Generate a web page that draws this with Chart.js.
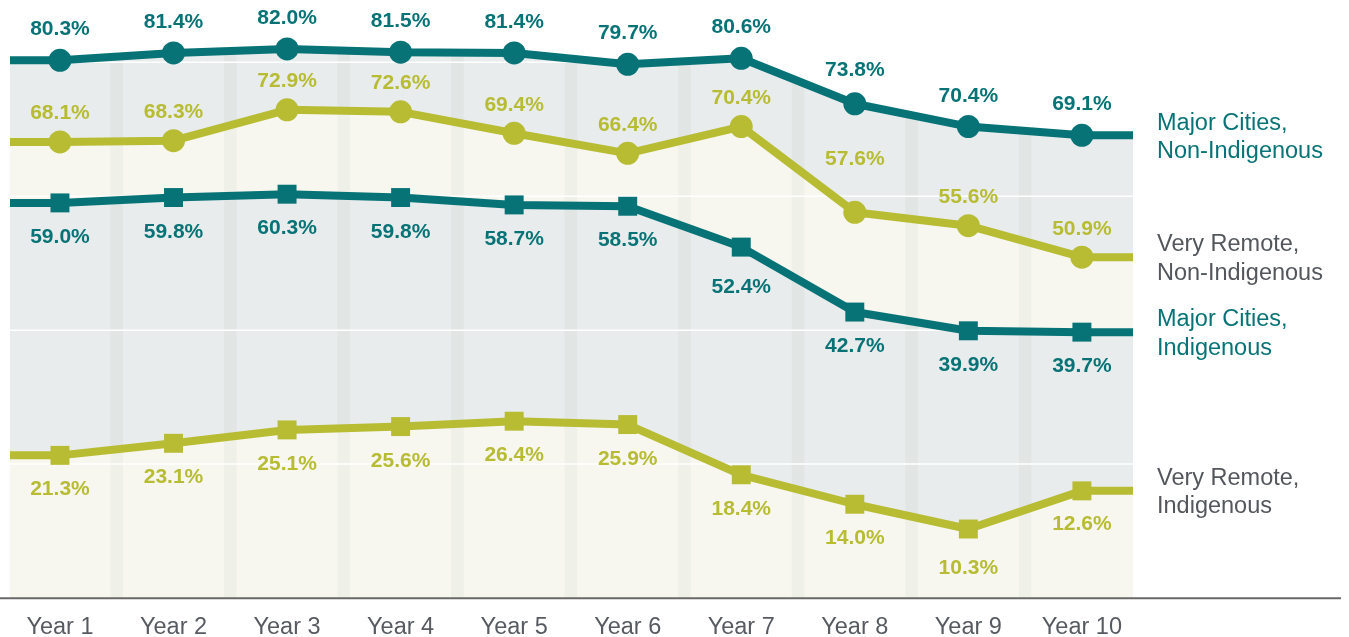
<!DOCTYPE html>
<html>
<head>
<meta charset="utf-8">
<script src="https://cdn.jsdelivr.net/npm/chart.js@4.4.1/dist/chart.umd.min.js"></script>
<style>
  html, body { margin: 0; padding: 0; background: #ffffff; }
  canvas { display: block; }
</style>
</head>
<body>
<canvas id="c" width="1349" height="637"></canvas>
<script>
// ---------------- data ----------------
const categories = ['Year 1', 'Year 2', 'Year 3', 'Year 4', 'Year 5', 'Year 6', 'Year 7', 'Year 8', 'Year 9', 'Year 10'];

const majorCitiesNonIndigenous = [80.3, 81.4, 82.0, 81.5, 81.4, 79.7, 80.6, 73.8, 70.4, 69.1];
const veryRemoteNonIndigenous  = [68.1, 68.3, 72.9, 72.6, 69.4, 66.4, 70.4, 57.6, 55.6, 50.9];
const majorCitiesIndigenous    = [59.0, 59.8, 60.3, 59.8, 58.7, 58.5, 52.4, 42.7, 39.9, 39.7];
const veryRemoteIndigenous     = [21.3, 23.1, 25.1, 25.6, 26.4, 25.9, 18.4, 14.0, 10.3, 16.0];

// printed value labels (as shown in the picture)
const labelsMajorCitiesNonIndigenous = ['80.3%', '81.4%', '82.0%', '81.5%', '81.4%', '79.7%', '80.6%', '73.8%', '70.4%', '69.1%'];
const labelsVeryRemoteNonIndigenous  = ['68.1%', '68.3%', '72.9%', '72.6%', '69.4%', '66.4%', '70.4%', '57.6%', '55.6%', '50.9%'];
const labelsMajorCitiesIndigenous    = ['59.0%', '59.8%', '60.3%', '59.8%', '58.7%', '58.5%', '52.4%', '42.7%', '39.9%', '39.7%'];
const labelsVeryRemoteIndigenous     = ['21.3%', '23.1%', '25.1%', '25.6%', '26.4%', '25.9%', '18.4%', '14.0%', '10.3%', '12.6%'];

const seriesNames = [
  ['Major Cities,', 'Non-Indigenous'],
  ['Very Remote,', 'Non-Indigenous'],
  ['Major Cities,', 'Indigenous'],
  ['Very Remote,', 'Indigenous']
];

const gridValues = [20, 40, 60, 80];

// ---------------- styles ----------------
const FONT = '"Liberation Sans", Arial, Helvetica, sans-serif';
const TEAL = '#077376';
const LIME = '#b7bc33';
const GRAYTEXT = '#53575c';
const FILL_GRAY = '#e8ecec';
const FILL_CREAM = '#f7f7ef';
const X_MIN = 0.56, X_MAX = 10.45, Y_MAX = 89.3;

const seriesStyle = [
  { color: TEAL, fill: FILL_GRAY,  point: 'circle', radius: 11.5, labelDy: -25,   labelDyOverride: { 7: -28 },  legendColor: TEAL },
  { color: LIME, fill: FILL_CREAM, point: 'circle', radius: 11.5, labelDy: -22.5, labelDyOverride: { 7: -47 },  legendColor: GRAYTEXT },
  { color: TEAL, fill: FILL_GRAY,  point: 'rect',   radius: 13.4, labelDy: 40,    labelDyOverride: { 6: 45.5 }, legendColor: TEAL },
  { color: LIME, fill: FILL_CREAM, point: 'rect',   radius: 13.4, labelDy: 40,    labelDyOverride: { 8: 45, 9: 39 }, legendColor: GRAYTEXT }
];

const seriesValues = [majorCitiesNonIndigenous, veryRemoteNonIndigenous, majorCitiesIndigenous, veryRemoteIndigenous];
const seriesLabels = [labelsMajorCitiesNonIndigenous, labelsVeryRemoteNonIndigenous, labelsMajorCitiesIndigenous, labelsVeryRemoteIndigenous];

// line extends flat to the plot edges
function extended(values) {
  return [{ x: X_MIN, y: values[0] }]
    .concat(values.map((v, i) => ({ x: i + 1, y: v })))
    .concat([{ x: X_MAX, y: values[values.length - 1] }]);
}

const lineDatasets = seriesValues.map((vals, s) => {
  const st = seriesStyle[s];
  const radii = [0].concat(vals.map(() => st.radius)).concat([0]);
  return {
    data: extended(vals),
    seriesIndex: s,
    isLine: true,
    order: 0,
    borderColor: st.color,
    borderWidth: 8,
    backgroundColor: st.color,
    pointStyle: st.point,
    pointRadius: radii,
    pointHoverRadius: radii,
    pointBackgroundColor: st.color,
    pointBorderWidth: 0,
    pointHoverBorderWidth: 0,
    fill: false,
    tension: 0,
    borderJoinStyle: 'round'
  };
});

const fillDatasets = seriesValues.map((vals, s) => ({
  data: extended(vals),
  order: 10 - s,
  lastFill: s === seriesValues.length - 1,
  borderWidth: 0,
  borderColor: 'rgba(0,0,0,0)',
  backgroundColor: seriesStyle[s].fill,
  pointRadius: 0,
  pointHoverRadius: 0,
  fill: 'origin',
  tension: 0
}));

const decorPlugin = {
  id: 'decor',
  afterDatasetDraw(chart, args) {
    const ds = chart.data.datasets[args.index];
    if (!ds.lastFill) return;
    const { ctx, chartArea: a, scales: { x, y } } = chart;
    // category separator bands, only over filled areas
    ctx.save();
    ctx.globalCompositeOperation = 'source-atop';
    ctx.fillStyle = 'rgba(60,75,45,0.04)';
    for (let i = 1; i < categories.length; i++) {
      const px = x.getPixelForValue(i + 0.5);
      ctx.fillRect(px - 6.25, a.top, 12.5, a.bottom - a.top);
    }
    ctx.restore();
    // horizontal grid lines
    ctx.save();
    ctx.strokeStyle = '#ffffff';
    ctx.lineWidth = 1.5;
    gridValues.forEach(v => {
      const py = y.getPixelForValue(v);
      ctx.beginPath();
      ctx.moveTo(a.left, py);
      ctx.lineTo(a.right, py);
      ctx.stroke();
    });
    ctx.restore();
  },
  afterDatasetsDraw(chart) {
    const { ctx, chartArea: a, scales: { y } } = chart;
    // value labels
    ctx.save();
    ctx.font = 'bold 21px ' + FONT;
    ctx.textAlign = 'center';
    ctx.textBaseline = 'alphabetic';
    chart.data.datasets.forEach((ds, di) => {
      if (!ds.isLine) return;
      const s = ds.seriesIndex;
      const st = seriesStyle[s];
      const meta = chart.getDatasetMeta(di);
      ctx.fillStyle = st.color;
      seriesLabels[s].forEach((txt, i) => {
        const pt = meta.data[i + 1];
        const dy = (st.labelDyOverride[i] !== undefined) ? st.labelDyOverride[i] : st.labelDy;
        ctx.fillText(txt, pt.x, pt.y + dy);
      });
    });
    ctx.restore();
    // series names on the right
    ctx.save();
    ctx.font = '23.5px ' + FONT;
    ctx.textAlign = 'left';
    ctx.textBaseline = 'alphabetic';
    seriesValues.forEach((vals, s) => {
      const cy = y.getPixelForValue(vals[vals.length - 1]);
      ctx.fillStyle = seriesStyle[s].legendColor;
      const b1 = cy - 5.7;
      seriesNames[s].forEach((line, k) => ctx.fillText(line, a.right + 24, b1 + k * 28.2));
    });
    ctx.restore();
    // baseline
    ctx.save();
    ctx.strokeStyle = '#686868';
    ctx.lineWidth = 2;
    ctx.beginPath();
    ctx.moveTo(0, a.bottom + 0.3);
    ctx.lineTo(1341, a.bottom + 0.3);
    ctx.stroke();
    ctx.restore();
  }
};

Chart.defaults.font.family = FONT;

new Chart(document.getElementById('c'), {
  type: 'line',
  data: { datasets: lineDatasets.concat(fillDatasets) },
  options: {
    responsive: false,
    devicePixelRatio: 1,
    animation: false,
    events: [],
    layout: { padding: { left: 10, right: 216, top: 0, bottom: 0 } },
    plugins: { legend: { display: false }, tooltip: { enabled: false } },
    scales: {
      x: {
        type: 'linear',
        min: X_MIN,
        max: X_MAX,
        grid: { display: false, drawTicks: false },
        border: { display: false },
        afterBuildTicks: (scale) => { scale.ticks = categories.map((c, i) => ({ value: i + 1 })); },
        afterFit: (scale) => { scale.height = 39; },
        ticks: {
          padding: 15,
          autoSkip: false,
          maxRotation: 0,
          color: '#575b61',
          font: { size: 23.5, family: FONT },
          callback: (v) => categories[Math.round(v) - 1] || ''
        }
      },
      y: { display: false, min: 0, max: Y_MAX }
    }
  },
  plugins: [decorPlugin]
});
</script>
</body>
</html>
